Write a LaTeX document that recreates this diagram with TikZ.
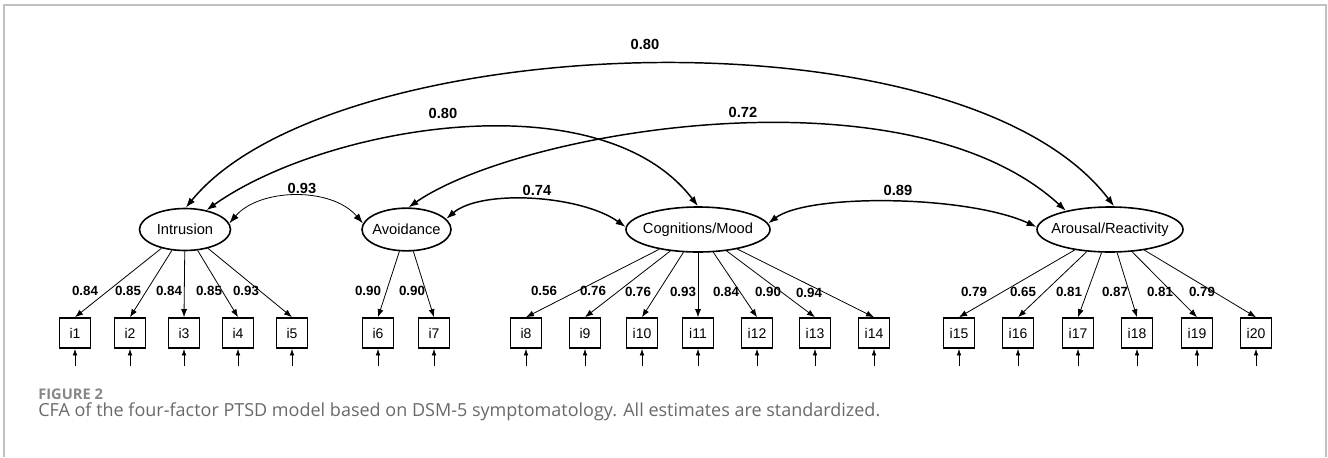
\documentclass[tikz,border=0pt]{standalone}
\usepackage{fontspec}
\setmainfont{Liberation Sans}
\newfontfamily\capfont{Open Sans}
\usetikzlibrary{arrows.meta,shapes.geometric}
\definecolor{framegray}{RGB}{192,192,192}
\definecolor{capgray}{RGB}{105,105,105}
\definecolor{figgray}{RGB}{135,135,135}
\tikzset{
  latent/.style={ellipse, draw, line width=1.2pt, inner sep=0pt, font=\fontsize{11}{13}\selectfont},
  obs/.style={rectangle, draw, line width=1.2pt, minimum width=23.25pt, minimum height=22.5pt, inner sep=0pt, font=\fontsize{10.5}{12}\selectfont},
  load/.style={-{Latex[length=6pt,width=4.5pt]}, line width=0.6pt},
  corr/.style={{Latex[length=7.5pt,width=5.25pt]}-{Latex[length=7.5pt,width=5.25pt]}, line width=1.1pt},
  err/.style={-{Latex[length=5pt,width=3.5pt]}, line width=0.6pt},
  coef/.style={font=\bfseries\fontsize{10}{12}\selectfont, inner sep=0pt},
  rcoef/.style={font=\bfseries\fontsize{11}{13}\selectfont, inner sep=0pt},
}
\begin{document}
\begin{tikzpicture}[x=0.75pt,y=-0.75pt]
\useasboundingbox (0,0) rectangle (1328,457);
% frame
\draw[framegray, line width=1.5pt] (4,457) -- (4,5) -- (1326,5) -- (1326,457);
% latent variables
\node[latent, minimum width=68.25pt, minimum height=31.5pt] (intr) at (185,229.5) {\makebox[0pt]{Intrusion}};
\node[latent, minimum width=66.75pt, minimum height=32pt] (avoid) at (406.5,229.5) {\makebox[0pt]{Avoidance}};
\node[latent, minimum width=108pt, minimum height=33.75pt] (cog) at (698,229.5) {\makebox[0pt]{Cognitions/Mood}};
\node[latent, minimum width=109.5pt, minimum height=33.75pt] (arous) at (1110,229.5) {\makebox[0pt]{Arousal/Reactivity}};
% observed variables with error arrows
\foreach \n/\x in {1/75,2/130,3/184,4/238,5/292,6/378,7/434,8/526,9/585,10/642,11/698,12/757,13/815,14/874,15/959,16/1018,17/1078,18/1137,19/1197,20/1256}{
  \node[obs] (i\n) at (\x,333) {i\n};
  \coordinate (e\n) at (\x,366);
  \draw[err] (e\n) -- (i\n.south);
}
% loadings
\foreach \n in {1,...,5} \draw[load] (intr) -- (i\n.north);
\foreach \n in {6,7} \draw[load] (avoid) -- (i\n.north);
\foreach \n in {8,...,14} \draw[load] (cog) -- (i\n.north);
\foreach \n in {15,...,20} \draw[load] (arous) -- (i\n.north);
% loading coefficients
\foreach \n/\x/\y/\v in {1/85/291/0.84,2/128/291/0.85,3/169/291/0.84,4/209/291/0.85,5/246/291/0.93,
  6/368/291/0.90,7/412/291/0.90,
  8/544/291/0.56,9/593/291/0.76,10/638/292/0.76,11/683/292/0.93,12/726/292/0.84,13/768/292/0.90,14/809/293/0.94,
  15/974/292/0.79,16/1023/292/0.65,17/1069/292/0.81,18/1115/292/0.87,19/1160/292/0.81,20/1202/292/0.79}{
  \node[coef] (c\n) at (\x,\y) {\v};
}
% correlations
\draw[corr, line width=0.6pt] (intr.8) .. controls +(30,-35) and +(-32,-37) .. (avoid.172);
\draw[corr] (avoid.15) .. controls +(35,-30) and +(-45,-32) .. (cog.178);
\draw[corr] (cog.5) .. controls +(40,-30) and +(-70,-32) .. (arous.178);
\draw[corr] (intr.42) .. controls +(118,-84) and +(-98,-128) .. (cog.90);
\draw[corr] (avoid.85) .. controls +(111,-77) and +(-159,-146) .. (arous.157);
\draw[corr] (intr.88) .. controls +(145,-178) and +(-154,-202) .. (arous.80);
\node[rcoef] (r1) at (302,188) {0.93};
\node[rcoef] (r2) at (537,190) {0.74};
\node[rcoef] (r3) at (898,190) {0.89};
\node[rcoef] (r4) at (443,113) {0.80};
\node[rcoef] (r5) at (743,112) {0.72};
\node[rcoef] (r6) at (645,44) {0.80};
% caption
\node[anchor=base west, inner sep=0pt, text=figgray, font=\capfont\bfseries\fontsize{11}{13}\selectfont] (fig) at (38,399) {FIGURE 2};
\node[anchor=base west, inner sep=0pt, text=capgray, font=\capfont\fontsize{13.5}{16}\selectfont] (cap) at (38,416) {CFA of the four-factor PTSD model based on DSM-5 symptomatology. All estimates are standardized.};
\end{tikzpicture}
\end{document}
